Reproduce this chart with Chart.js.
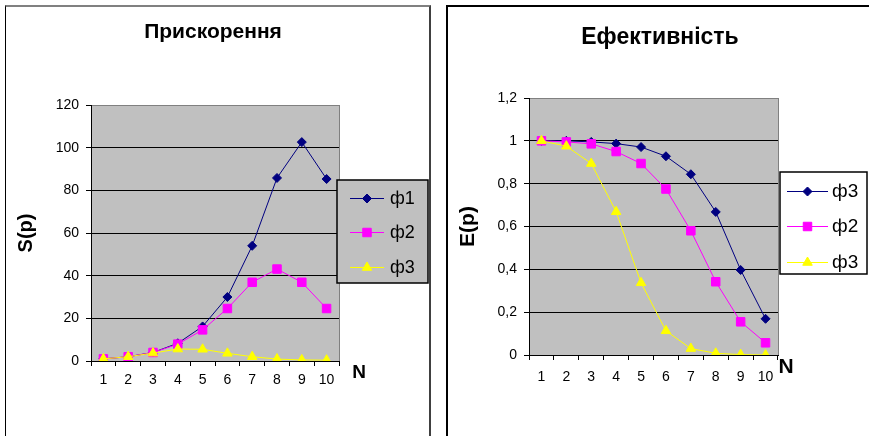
<!DOCTYPE html>
<html>
<head>
<meta charset="utf-8">
<script src="https://cdn.jsdelivr.net/npm/chart.js@4.4.1/dist/chart.umd.min.js"></script>
<style>
  body { margin: 0; background: #fff; width: 869px; height: 436px; overflow: hidden; position: relative; }
  canvas { position: absolute; top: 0; }
  #speedChart { left: 0; }
  #effChart { left: 440px; }
  .frame { position: absolute; pointer-events: none; }
  #frameL { left: 5px; top: 5px; width: 423px; height: 440px; border-top: 2px solid #808080; border-left: 1px solid #000; border-right: 2px solid #404040; }
  #frameR { left: 446px; top: 5px; width: 440px; height: 440px; border-top: 2px solid #000; border-left: 2px solid #000; }
</style>
</head>
<body>
<canvas id="speedChart" width="440" height="436"></canvas>
<canvas id="effChart" width="429" height="436"></canvas>
<div class="frame" id="frameL"></div>
<div class="frame" id="frameR"></div>
<script>
// Дані
const procs = ['1', '2', '3', '4', '5', '6', '7', '8', '9', '10'];

const speedF1 = [1, 2, 4, 8.3, 16.2, 30, 54, 85.8, 102.6, 85.3];
const speedF2 = [1, 2, 4, 7.9, 14.6, 24.6, 36.9, 43.1, 36.9, 24.6];
const speedF3 = [1, 2, 3.7, 5.6, 5.5, 3.6, 2, 0.9, 0.5, 0.4];
const speedNames = ['ф1', 'ф2', 'ф3'];
const speedTicks = ['0', '20', '40', '60', '80', '100', '120'];

const effA = [1, 1, 0.995, 0.987, 0.971, 0.928, 0.844, 0.668, 0.397, 0.169];
const effB = [1, 0.995, 0.986, 0.95, 0.894, 0.775, 0.58, 0.342, 0.155, 0.057];
const effC = [1, 0.975, 0.894, 0.669, 0.337, 0.113, 0.03, 0.008, 0.002, 0];
const effNames = ['ф3', 'ф2', 'ф3'];
const effTicks = ['0', '0,2', '0,4', '0,6', '0,8', '1', '1,2'];

const colors = ['#000080', '#FF00FF', '#FFFF00'];
const styles = ['rectRot', 'rect', 'triangle'];
const radii = [4.5, 6, 5.5];

Chart.defaults.font.family = '"Liberation Sans", Arial, sans-serif';
Chart.defaults.color = '#000';

function series(i, label, data) {
    return {
        label: label,
        data: data,
        borderColor: colors[i],
        backgroundColor: colors[i],
        borderWidth: 1,
        pointStyle: styles[i],
        pointRadius: radii[i],
        pointBackgroundColor: colors[i],
        pointBorderColor: colors[i],
        pointBorderWidth: 1,
        tension: 0,
        order: 3 - i // Excel малює наступні серії поверх
    };
}

// сірий фон області графіка, заголовок, "N" та легенда як в Excel
const excelLook = {
    id: 'excelLook',
    beforeDraw(chart, args, o) {
        const {ctx, chartArea: a} = chart;
        ctx.save();
        ctx.fillStyle = '#C0C0C0';
        ctx.fillRect(a.left, a.top, a.right - a.left, a.bottom - a.top);
        ctx.strokeStyle = '#808080';
        ctx.lineWidth = 1;
        ctx.strokeRect(a.left + 0.5, a.top + 0.5, a.right - a.left, a.bottom - a.top);
        ctx.restore();
    },
    afterDraw(chart, args, o) {
        const ctx = chart.ctx;
        ctx.save();
        ctx.fillStyle = '#000';
        ctx.textAlign = 'center';
        ctx.textBaseline = 'middle';
        ctx.font = 'bold ' + o.titleSize + 'px "Liberation Sans", Arial';
        ctx.fillText(o.title, o.titleX, o.titleY);
        ctx.font = 'bold ' + o.nSize + 'px "Liberation Sans", Arial';
        ctx.fillText('N', o.nX, o.nY);

        const lg = o.legend;
        ctx.fillStyle = lg.fill;
        ctx.fillRect(lg.x, lg.y, lg.w, lg.h);
        ctx.strokeStyle = '#000';
        ctx.lineWidth = 1.5;
        ctx.strokeRect(lg.x, lg.y, lg.w, lg.h);
        ctx.font = lg.size + 'px "Liberation Sans", Arial';
        ctx.textAlign = 'left';
        chart.data.datasets.forEach((ds, i) => {
            const y = lg.rows[i];
            ctx.strokeStyle = ds.borderColor;
            ctx.lineWidth = 1;
            ctx.beginPath();
            ctx.moveTo(lg.x1, y + 0.5);
            ctx.lineTo(lg.x2, y + 0.5);
            ctx.stroke();
            ctx.fillStyle = ds.pointBackgroundColor;
            Chart.helpers.drawPoint(ctx, {pointStyle: ds.pointStyle, radius: ds.pointRadius, rotation: 0, borderWidth: 1}, (lg.x1 + lg.x2) / 2, y + 0.5);
            ctx.fillStyle = '#000';
            ctx.fillText(ds.label, lg.textX, y + 1);
        });
        ctx.restore();
    }
};

function axes(max, step, tickLabels, title, titleSize, titlePad, yWidth, xPad) {
    return {
        x: {
            type: 'category',
            offset: true,
            grid: {offset: true, drawOnChartArea: false, tickLength: 5, tickColor: '#000'},
            border: {color: '#000', width: 1},
            ticks: {font: {size: 14}, padding: xPad, maxRotation: 0, autoSkip: false},
            afterFit: s => { s.height = 30; }
        },
        y: {
            min: 0,
            max: max,
            ticks: {stepSize: step, font: {size: 14}, padding: 7, callback: (v, i) => tickLabels[i]},
            grid: {
                color: c => (c.index === tickLabels.length - 1 ? '#808080' : '#000'),
                tickColor: '#000',
                tickLength: 5
            },
            border: {color: '#000', width: 1},
            title: {display: true, text: title, font: {size: titleSize, weight: 'bold'}, padding: {top: titlePad, bottom: 0}},
            afterFit: s => { s.width = yWidth; s.paddingTop = 0; s.paddingBottom = 0; }
        }
    };
}

new Chart(document.getElementById('speedChart'), {
    type: 'line',
    data: {
        labels: procs,
        datasets: [
            series(0, speedNames[0], speedF1),
            series(1, speedNames[1], speedF2),
            series(2, speedNames[2], speedF3)
        ]
    },
    options: {
        responsive: false,
        animation: false,
        layout: {padding: {left: 8, top: 105, right: 101, bottom: 45}},
        plugins: {
            legend: {display: false},
            tooltip: {enabled: false},
            excelLook: {
                title: 'Прискорення', titleSize: 21, titleX: 213, titleY: 32,
                nSize: 19, nX: 359, nY: 373,
                legend: {x: 337, y: 180, w: 91, h: 103, fill: '#C0C0C0', rows: [198, 232, 267], x1: 350, x2: 384, textX: 390, size: 18}
            }
        },
        scales: axes(120, 20, speedTicks, 'S(p)', 20, 6, 83, 6)
    },
    plugins: [excelLook]
});

new Chart(document.getElementById('effChart'), {
    type: 'line',
    data: {
        labels: procs,
        datasets: [
            series(0, effNames[0], effA),
            series(1, effNames[1], effB),
            series(2, effNames[2], effC)
        ]
    },
    options: {
        responsive: false,
        animation: false,
        layout: {padding: {left: 8, top: 98, right: 91, bottom: 51}},
        plugins: {
            legend: {display: false},
            tooltip: {enabled: false},
            excelLook: {
                title: 'Ефективність', titleSize: 23, titleX: 220, titleY: 38,
                nSize: 21, nX: 346, nY: 367,
                legend: {x: 340, y: 172, w: 87, h: 102, fill: '#FFFFFF', rows: [191, 226, 262], x1: 347, x2: 388, textX: 392, size: 19}
            }
        },
        scales: axes(1.2, 0.2, effTicks, 'E(p)', 21, 8, 81, 9)
    },
    plugins: [excelLook]
});
</script>
</body>
</html>
